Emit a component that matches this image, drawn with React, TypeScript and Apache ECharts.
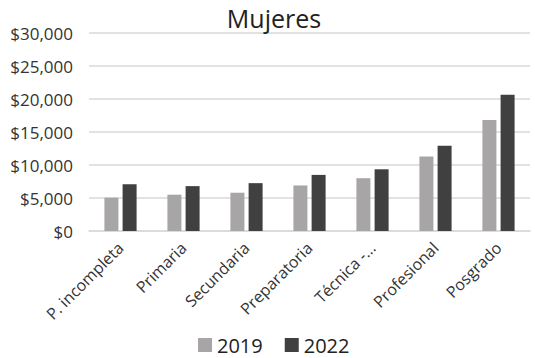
import React, { useEffect, useRef } from "react";
import * as echarts from "echarts";

const categories = ["P. incompleta", "Primaria", "Secundaria", "Preparatoria", "Técnica -...", "Profesional", "Posgrado"];
const values2019 = [5050, 5500, 5800, 6900, 8000, 11300, 16800];
const values2022 = [7100, 6800, 7250, 8500, 9350, 12900, 20650];
const seriesNames = ["2019", "2022"];

export default function App() {
  const ref = useRef<HTMLDivElement>(null);
  useEffect(() => {
    const chart = echarts.init(ref.current!, null, { renderer: "svg" });
    const font = "'Open Sans', 'Liberation Sans', sans-serif";
    chart.setOption({
      animation: false,
      textStyle: { fontFamily: font },
      title: {
        text: "Mujeres",
        left: 269,
        textAlign: "center",
        top: 0,
        textStyle: { fontSize: 25, fontWeight: "normal", color: "#222", fontFamily: font },
      },
      legend: {
        data: seriesNames,
        bottom: 3,
        left: 198,
        padding: 0,
        itemWidth: 14,
        itemHeight: 14,
        itemGap: 22,
        icon: "rect",
        textStyle: { fontSize: 20, color: "#222", fontFamily: font },
      },
      grid: { left: 89, right: 5, top: 33, bottom: 127 },
      xAxis: {
        type: "category",
        data: categories,
        axisLine: { lineStyle: { color: "#d9d9d9", width: 1.5 } },
        axisTick: { show: false },
        axisLabel: { rotate: 45, fontSize: 16, color: "#333", margin: 14, interval: 0, fontFamily: font },
      },
      yAxis: {
        type: "value",
        min: 0,
        max: 30000,
        interval: 5000,
        axisLine: { show: false },
        axisTick: { show: false },
        splitLine: { lineStyle: { color: "#d9d9d9", width: 1.5 } },
        axisLabel: {
          fontSize: 17,
          color: "#333",
          margin: 16,
          fontFamily: font,
          formatter: (v: number) => "$" + v.toLocaleString("en-US"),
        },
      },
      series: [
        { name: seriesNames[0], type: "bar", data: values2019, barWidth: 14, barGap: "30%", itemStyle: { color: "#a8a5a6" } },
        { name: seriesNames[1], type: "bar", data: values2022, barWidth: 14, itemStyle: { color: "#404040" } },
      ],
    });
    return () => chart.dispose();
  }, []);
  return <div ref={ref} style={{ width: 535, height: 358, position: "absolute", left: 0, top: 0 }} />;
}
